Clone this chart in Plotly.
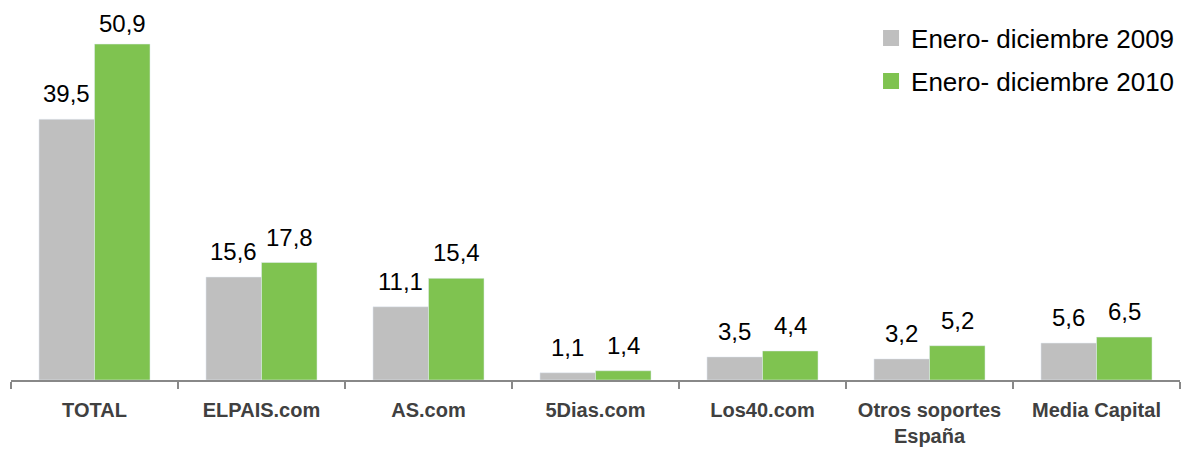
import plotly.graph_objects as go

categories = ["TOTAL", "ELPAIS.com", "AS.com", "5Dias.com", "Los40.com",
              "Otros soportes<br>España", "Media Capital"]
series_2009 = [39.5, 15.6, 11.1, 1.1, 3.5, 3.2, 5.6]
series_2010 = [50.9, 17.8, 15.4, 1.4, 4.4, 5.2, 6.5]
name_2009 = "Enero- diciembre 2009"
name_2010 = "Enero- diciembre 2010"

GRAY = "#BFBFBF"
GREEN = "#7FC350"
FONT = "Liberation Sans, Arial, sans-serif"

ML, MR, MT, MB = 3, 17, 0, 82
Y_MAX = 56.36

fig = go.Figure()
fig.add_trace(go.Bar(x=categories, y=series_2009, marker_color=GRAY,
                     showlegend=False, name=name_2009))
fig.add_trace(go.Bar(x=categories, y=series_2010, marker_color=GREEN,
                     showlegend=False, name=name_2010))

# legend entries with large square swatches
for nm, col, grp in [(name_2009, GRAY, "a"), (name_2010, GREEN, "b")]:
    fig.add_trace(go.Scatter(x=[None], y=[None], mode="markers", name=nm,
                             legendgroup=grp,
                             marker=dict(symbol="square", size=17, color=col)))

def fmt(v):
    return f"{v:.1f}".replace(".", ",")

ncat = len(categories)
plot_w = 1189 - ML - MR
bar_w = plot_w / ncat * (1 - 0.335) / 2
for cats, vals, shift in [(categories, series_2009, -bar_w / 2),
                          (categories, series_2010, bar_w / 2)]:
    for c, v in zip(cats, vals):
        # keep the tallest label's box inside the page top
        ys = 6 if v > 0.88 * Y_MAX else 11
        fig.add_annotation(x=c, y=v, text=fmt(v), showarrow=False,
                           xshift=shift, yshift=ys, yanchor="bottom",
                           borderpad=0,
                           font=dict(size=24, color="#000000", family=FONT))

fig.update_layout(
    width=1189, height=454,
    margin=dict(l=ML, r=MR, t=MT, b=MB),
    paper_bgcolor="white", plot_bgcolor="white",
    barmode="group", bargap=0.335, bargroupgap=0,
    font=dict(family=FONT),
    legend=dict(x=0.7357, xanchor="left", y=0.982, yanchor="top",
                font=dict(size=26, color="#000000", family=FONT),
                traceorder="grouped", tracegroupgap=6,
                itemwidth=30, bgcolor="rgba(0,0,0,0)"),
    xaxis=dict(showline=True, linecolor="#888888", linewidth=2,
               ticks="outside", tickson="boundaries", ticklen=7,
               tickcolor="#888888", tickwidth=1.5,
               ticklabelstandoff=11,
               tickfont=dict(size=20, color="#404040", family=FONT),
               showgrid=False),
    yaxis=dict(range=[0, Y_MAX], visible=False, showgrid=False),
)
fig.update_xaxes(tickfont_weight="bold")

fig.write_html("out.html")
